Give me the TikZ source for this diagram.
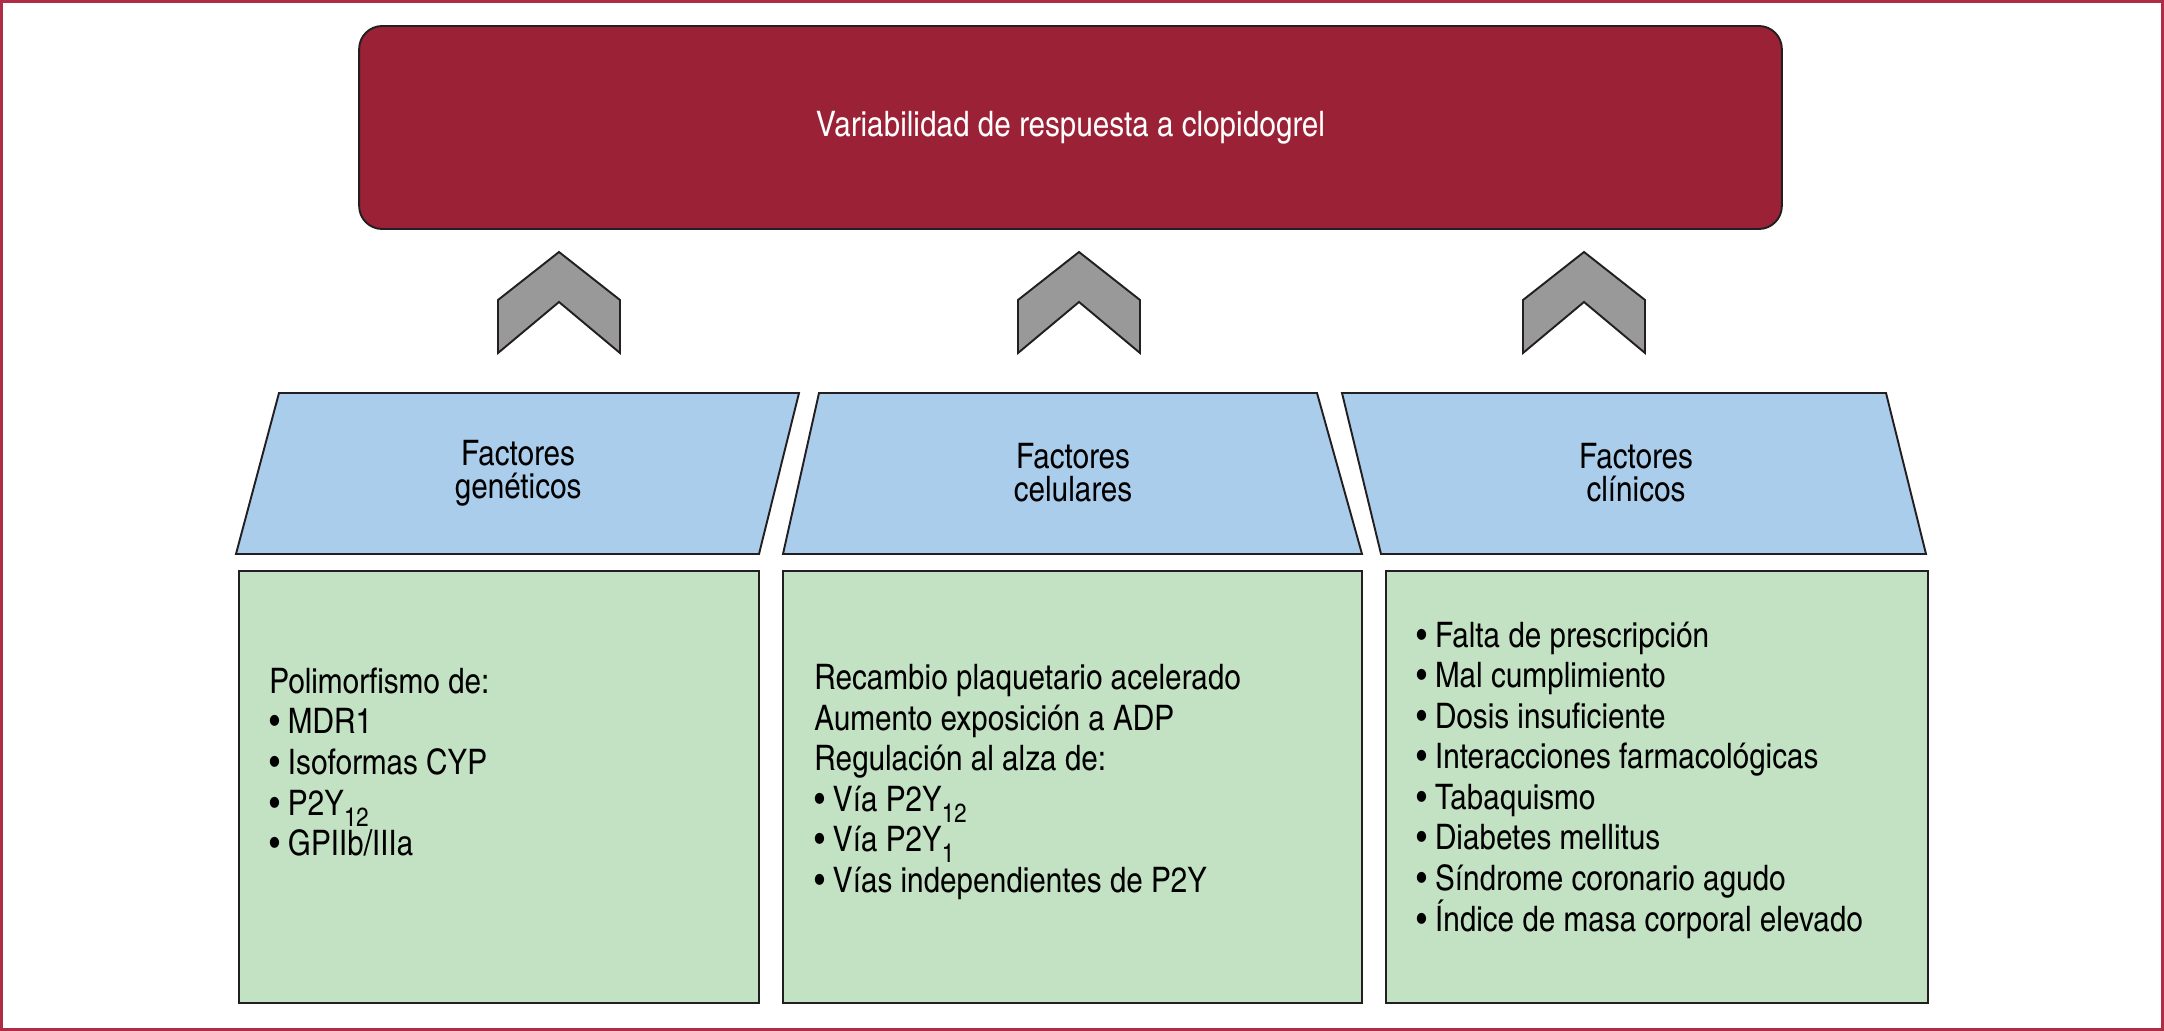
\documentclass[tikz,border=0pt]{standalone}
\usepackage{fontspec}
\setmainfont[FakeStretch=1.03]{TeX Gyre Heros Cn}
\usetikzlibrary{positioning}

\definecolor{titlered}{HTML}{9B2236}
\definecolor{framered}{HTML}{AE2C46}
\definecolor{factblue}{HTML}{ABCDEC}
\definecolor{listgreen}{HTML}{C3E1C3}
\definecolor{edgegray}{HTML}{231F20}
\definecolor{markgray}{HTML}{999999}

\newcommand{\lowidx}[1]{\raisebox{-0.6ex}{\fontsize{15}{15}\selectfont #1}}

\begin{document}
\begin{tikzpicture}[
  x=0.02cm, y=-0.02cm,
  titlebox/.style = {draw=edgegray, line width=1.1pt, fill=titlered, rounded corners=0.46cm,
                     minimum width=28.46cm, minimum height=4.06cm, text=white,
                     font=\fontsize{20}{24}\selectfont},
  factshape/.style = {draw=edgegray, line width=1.1pt, fill=factblue},
  factlabel/.style = {align=center, font=\fontsize{20}{18.8}\selectfont},
  listbox/.style = {draw=edgegray, line width=1.1pt, fill=listgreen, minimum height=8.64cm},
  listtext/.style = {align=left, anchor=west, inner sep=0pt, font=\fontsize{20}{23.1}\selectfont},
  upmark/.style = {draw=edgegray, line width=1.1pt, fill=markgray}
]
\useasboundingbox (0,0) rectangle (2164,1031);
\draw[framered, line width=1.3pt] (1.5,1.5) rectangle (2162.5,1029.5);

% Top box
\node[titlebox] (title) at (1070.5,127.5) {Variabilidad de respuesta a clopidogrel};

% Chevrons pointing up
\foreach \cx in {559,1079,1584}
  \draw[upmark] (\cx-61,300) -- (\cx,252) -- (\cx+61,300) -- (\cx+61,353) -- (\cx,302) -- (\cx-61,353) -- cycle;

% Factor headers
\draw[factshape] (279,393) -- (799,393) -- (759,554) -- (236,554) -- cycle;
\draw[factshape] (819,393) -- (1317,393) -- (1362,554) -- (783,554) -- cycle;
\draw[factshape] (1342,393) -- (1886,393) -- (1926,554) -- (1381,554) -- cycle;
\node[factlabel] (genlabel) at (518,473) {Factores\\genéticos};
\node[factlabel] (cellabel) at (1073,473) {Factores\\celulares};
\node[factlabel] (clilabel) at (1636,473) {Factores\\clínicos};

% Lists
\node[listbox, minimum width=10.4cm] (genbox) at (499,787) {};
\node[listbox, minimum width=11.58cm] (celbox) at (1072.5,787) {};
\node[listbox, minimum width=10.84cm] (clibox) at (1657,787) {};

\node[listtext] (gentext) at (269,762) {Polimorfismo de:\\
  • MDR1\\
  • Isoformas CYP\\
  • P2Y\lowidx{12}\\
  • GPIIb/IIIa};
\node[listtext] (celtext) at (814,782) {Recambio plaquetario acelerado\\
  Aumento exposición a ADP\\
  Regulación al alza de:\\
  • Vía P2Y\lowidx{12}\\
  • Vía P2Y\lowidx{1}\\
  • Vías independientes de P2Y};
\node[listtext] (clitext) at (1416,780) {• Falta de prescripción\\
  • Mal cumplimiento\\
  • Dosis insuficiente\\
  • Interacciones farmacológicas\\
  • Tabaquismo\\
  • Diabetes mellitus\\
  • Síndrome coronario agudo\\
  • Índice de masa corporal elevado};
\end{tikzpicture}
\end{document}
